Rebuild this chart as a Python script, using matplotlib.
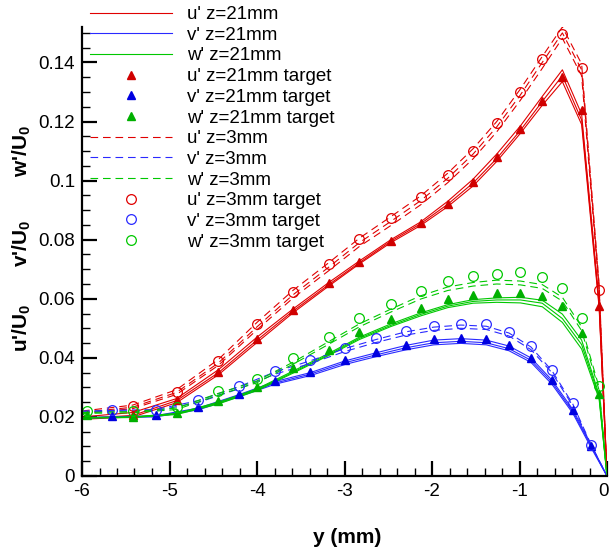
import matplotlib
matplotlib.use("Agg")
import matplotlib.pyplot as plt
import numpy as np
from matplotlib.lines import Line2D
from matplotlib.ticker import MultipleLocator

plt.rcParams['font.family'] = ['Liberation Sans', 'DejaVu Sans']
plt.rcParams['mathtext.fontset'] = 'custom'
plt.rcParams['mathtext.rm'] = 'Liberation Sans:bold'
plt.rcParams['mathtext.it'] = 'Liberation Sans:bold'
plt.rcParams['mathtext.bf'] = 'Liberation Sans:bold'
plt.rcParams['lines.scale_dashes'] = False

# ---------------- data ----------------
# grid A (u', w') and grid B (v') target positions, y in mm
x_A = [-5.94, -5.42, -4.92, -4.44, -4.0, -3.59, -3.18, -2.83, -2.47, -2.13,
       -1.82, -1.53, -1.26, -0.99, -0.74, -0.51, -0.29, -0.09]
x_B = [-5.66, -5.16, -4.67, -4.21, -3.79, -3.39, -2.99, -2.64, -2.30, -1.98,
       -1.67, -1.38, -1.12, -0.87, -0.63, -0.39, -0.18]

# targets
u21_target = [np.nan, 0.0205, 0.0257, 0.0353, 0.0464, 0.0562, 0.0652, 0.0726, 0.0797, 0.0856,
              0.0920, 0.0995, 0.1080, 0.1174, 0.1270, 0.1350, 0.1240, 0.0574]
u3_target = [np.nan, 0.0237, 0.0286, 0.0390, 0.0513, 0.0622, 0.0717, 0.0802, 0.0874, 0.0943,
             0.1020, 0.1100, 0.1195, 0.1300, 0.1410, 0.1497, 0.1380, 0.0629]
w21_target = [0.0205, 0.0200, 0.0214, 0.0255, 0.0300, 0.0366, 0.0427, 0.0486, 0.0530, 0.0569,
              0.0600, 0.0613, 0.0619, 0.0621, 0.0611, 0.0576, 0.0484, 0.0278]
w3_target = [0.0221, 0.0220, 0.0234, 0.0288, 0.0330, 0.0398, 0.0472, 0.0535, 0.0583, 0.0627,
             0.0661, 0.0677, 0.0685, 0.0689, 0.0675, 0.0635, 0.0534, 0.0304]
v21_target = [0.0202, 0.0205, 0.0232, 0.0277, 0.0323, 0.0352, 0.0392, 0.0419, 0.0445, 0.0463,
              0.0468, 0.0463, 0.0442, 0.0401, 0.0325, 0.0225, 0.0100]
v3_target = [0.0224, 0.0225, 0.0257, 0.0304, 0.0356, 0.0392, 0.0435, 0.0466, 0.0492, 0.0508,
             0.0516, 0.0513, 0.0489, 0.0440, 0.0360, 0.0246, 0.0106]

# simulation lines (three runs per series)
x_lineA = [-6.0, -5.42, -4.92, -4.44, -4.0, -3.59, -3.18, -2.83, -2.47, -2.13,
           -1.82, -1.53, -1.26, -0.99, -0.74, -0.51, -0.29, -0.09, 0.0]
x_lineB = [-6.0, -5.66, -5.16, -4.67, -4.21, -3.79, -3.39, -2.99, -2.64, -2.30, -1.98,
           -1.67, -1.38, -1.12, -0.87, -0.63, -0.39, -0.18, 0.0]

u21_lines = [
    [0.0200, 0.0215, 0.0262, 0.0360, 0.0470, 0.0565, 0.0655, 0.0728, 0.0800, 0.0860,
     0.0930, 0.1005, 0.1090, 0.1185, 0.1285, 0.1375, 0.1225, 0.0590, 0.0],
    [0.0195, 0.0205, 0.0255, 0.0350, 0.0460, 0.0558, 0.0648, 0.0722, 0.0795, 0.0854,
     0.0920, 0.0992, 0.1075, 0.1170, 0.1268, 0.1355, 0.1205, 0.0580, 0.0],
    [0.0192, 0.0200, 0.0248, 0.0343, 0.0452, 0.0552, 0.0643, 0.0718, 0.0790, 0.0848,
     0.0912, 0.0982, 0.1065, 0.1160, 0.1255, 0.1335, 0.1190, 0.0570, 0.0],
]
u3_lines = [
    [0.0220, 0.0240, 0.0292, 0.0395, 0.0520, 0.0628, 0.0722, 0.0805, 0.0878, 0.0948,
     0.1025, 0.1108, 0.1200, 0.1310, 0.1420, 0.1520, 0.1395, 0.0650, 0.0],
    [0.0215, 0.0233, 0.0283, 0.0383, 0.0505, 0.0613, 0.0707, 0.0790, 0.0862, 0.0932,
     0.1008, 0.1090, 0.1182, 0.1290, 0.1400, 0.1500, 0.1375, 0.0640, 0.0],
    [0.0212, 0.0228, 0.0276, 0.0375, 0.0495, 0.0602, 0.0695, 0.0777, 0.0848, 0.0918,
     0.0993, 0.1074, 0.1165, 0.1272, 0.1380, 0.1482, 0.1355, 0.0630, 0.0],
]
w21_lines = [
    [0.0198, 0.0200, 0.0212, 0.0250, 0.0295, 0.0355, 0.0415, 0.0470, 0.0515, 0.0552,
     0.0580, 0.0597, 0.0603, 0.0605, 0.0595, 0.0548, 0.0460, 0.0275, 0.0],
    [0.0197, 0.0199, 0.0210, 0.0247, 0.0292, 0.0351, 0.0411, 0.0466, 0.0510, 0.0547,
     0.0575, 0.0591, 0.0596, 0.0596, 0.0585, 0.0533, 0.0445, 0.0268, 0.0],
    [0.0196, 0.0198, 0.0208, 0.0244, 0.0289, 0.0348, 0.0408, 0.0462, 0.0506, 0.0542,
     0.0570, 0.0585, 0.0588, 0.0586, 0.0573, 0.0520, 0.0430, 0.0260, 0.0],
]
w3_lines = [
    [0.0215, 0.0218, 0.0230, 0.0280, 0.0322, 0.0385, 0.0455, 0.0515, 0.0565, 0.0610,
     0.0640, 0.0655, 0.0663, 0.0660, 0.0648, 0.0605, 0.0505, 0.0300, 0.0],
    [0.0212, 0.0214, 0.0225, 0.0274, 0.0316, 0.0378, 0.0446, 0.0505, 0.0555, 0.0599,
     0.0628, 0.0643, 0.0650, 0.0647, 0.0635, 0.0592, 0.0492, 0.0290, 0.0],
]
v21_lines = [
    [0.0198, 0.0200, 0.0204, 0.0230, 0.0275, 0.0320, 0.0350, 0.0390, 0.0417, 0.0442, 0.0460,
     0.0465, 0.0460, 0.0440, 0.0400, 0.0325, 0.0225, 0.0105, 0.0],
    [0.0197, 0.0199, 0.0202, 0.0227, 0.0271, 0.0315, 0.0345, 0.0384, 0.0410, 0.0434, 0.0451,
     0.0456, 0.0451, 0.0431, 0.0392, 0.0318, 0.0218, 0.0100, 0.0],
    [0.0196, 0.0198, 0.0200, 0.0224, 0.0268, 0.0311, 0.0340, 0.0378, 0.0404, 0.0427, 0.0444,
     0.0449, 0.0444, 0.0424, 0.0385, 0.0311, 0.0212, 0.0095, 0.0],
]
v3_lines = [
    [0.0220, 0.0222, 0.0225, 0.0255, 0.0302, 0.0353, 0.0390, 0.0432, 0.0462, 0.0488, 0.0504,
     0.0511, 0.0507, 0.0484, 0.0437, 0.0357, 0.0243, 0.0105, 0.0],
    [0.0217, 0.0219, 0.0221, 0.0249, 0.0295, 0.0345, 0.0381, 0.0422, 0.0452, 0.0477, 0.0493,
     0.0500, 0.0496, 0.0474, 0.0428, 0.0350, 0.0237, 0.0102, 0.0],
]

legend_labels = ["u' z=21mm", "v' z=21mm", "w' z=21mm",
                 "u' z=21mm target", "v' z=21mm target", "w' z=21mm target",
                 "u' z=3mm", "v' z=3mm", "w' z=3mm",
                 "u' z=3mm target", "v' z=3mm target", "w' z=3mm target"]
x_ticks = [-6, -5, -4, -3, -2, -1, 0]
y_ticks = [0, 0.02, 0.04, 0.06, 0.08, 0.1, 0.12, 0.14]
y_tick_labels = ["0", "0.02", "0.04", "0.06", "0.08", "0.1", "0.12", "0.14"]

# ---------------- styling ----------------
RED, BLUE, GREEN = '#e00000', '#2a2aff', '#00c800'
RED_M, BLUE_M, GREEN_M = '#d00000', '#0000e0', '#00b000'
LW = 0.8
DASH = (0, (5.5, 3.5))

fig = plt.figure(figsize=(6.10, 5.52), dpi=100)
ax = fig.add_axes([82/610, 1-476/552, (607-82)/610, 449/552])

for ys in u21_lines:
    ax.plot(x_lineA, ys, color=RED, lw=LW)
for ys in v21_lines:
    ax.plot(x_lineB, ys, color=BLUE, lw=LW)
for ys in w21_lines:
    ax.plot(x_lineA, ys, color=GREEN, lw=LW)
for ys in u3_lines:
    ax.plot(x_lineA, ys, color=RED, lw=LW, ls=DASH)
for ys in v3_lines:
    ax.plot(x_lineB, ys, color=BLUE, lw=LW, ls=DASH)
for ys in w3_lines:
    ax.plot(x_lineA, ys, color=GREEN, lw=LW, ls=DASH)

TRI = dict(marker='^', ms=6, ls='none', clip_on=False)
CIR = dict(marker='o', ms=7, ls='none', mfc='none', mew=0.9, clip_on=False)
ax.plot(x_A, u21_target, color=RED_M, **TRI)
ax.plot(x_B, v21_target, color=BLUE_M, **TRI)
ax.plot(x_A, w21_target, color=GREEN_M, **TRI)
ax.plot(x_A, u3_target, color=RED, **CIR)
ax.plot(x_B, v3_target, color=BLUE, **CIR)
ax.plot(x_A, w3_target, color=GREEN, **CIR)

ax.set_xlim(-6, 0)
ax.set_ylim(0, 0.152)
ax.set_xticks(x_ticks)
# last label ("0") is drawn separately so it stays inside the figure
ax.set_xticklabels([str(t) for t in x_ticks[:-1]] + [""])
ax.set_yticks(y_ticks)
ax.set_yticklabels(y_tick_labels)
ax.xaxis.set_minor_locator(MultipleLocator(0.2))
ax.yaxis.set_minor_locator(MultipleLocator(0.005))
ax.tick_params(which='major', direction='in', length=11, width=1.6, labelsize=13.5, pad=5,
               top=False, right=False)
ax.tick_params(which='minor', direction='in', length=6, width=1.0, top=False, right=False)
for s in ['top', 'right']:
    ax.spines[s].set_visible(False)
for s in ['left', 'bottom']:
    ax.spines[s].set_linewidth(1.6)

fig.text(609/610, 1-483/552, str(x_ticks[-1]), fontsize=13.5, ha='right', va='top')

ax.set_xlabel('y (mm)', fontsize=15, fontweight='bold', labelpad=2)
ax.xaxis.set_label_coords(0.505, -0.115)

# stacked y labels
for txt, yc in [("u'/U$_0$", 328), ("v'/U$_0$", 243), ("w'/U$_0$", 151)]:
    fig.text(22/610, 1-yc/552, txt, rotation=90, fontsize=15, fontweight='bold',
             ha='center', va='center')

# legend
handles = [
    Line2D([], [], color=RED, lw=LW),
    Line2D([], [], color=BLUE, lw=LW),
    Line2D([], [], color=GREEN, lw=LW),
    Line2D([], [], color=RED_M, marker='^', ms=6, ls='none'),
    Line2D([], [], color=BLUE_M, marker='^', ms=6, ls='none'),
    Line2D([], [], color=GREEN_M, marker='^', ms=6, ls='none'),
    Line2D([], [], color=RED, lw=LW, ls=DASH),
    Line2D([], [], color=BLUE, lw=LW, ls=DASH),
    Line2D([], [], color=GREEN, lw=LW, ls=DASH),
    Line2D([], [], color=RED, marker='o', ms=7, mfc='none', mew=0.9, ls='none'),
    Line2D([], [], color=BLUE, marker='o', ms=7, mfc='none', mew=0.9, ls='none'),
    Line2D([], [], color=GREEN, marker='o', ms=7, mfc='none', mew=0.9, ls='none'),
]
leg = fig.legend(handles, legend_labels, loc='upper left', bbox_to_anchor=(90/610, 1-6/552),
                 frameon=False, fontsize=13.5, handlelength=4.37, handletextpad=0.8,
                 labelspacing=0.19, borderpad=0, borderaxespad=0, numpoints=1)

fig.savefig('out.png', dpi=100)
